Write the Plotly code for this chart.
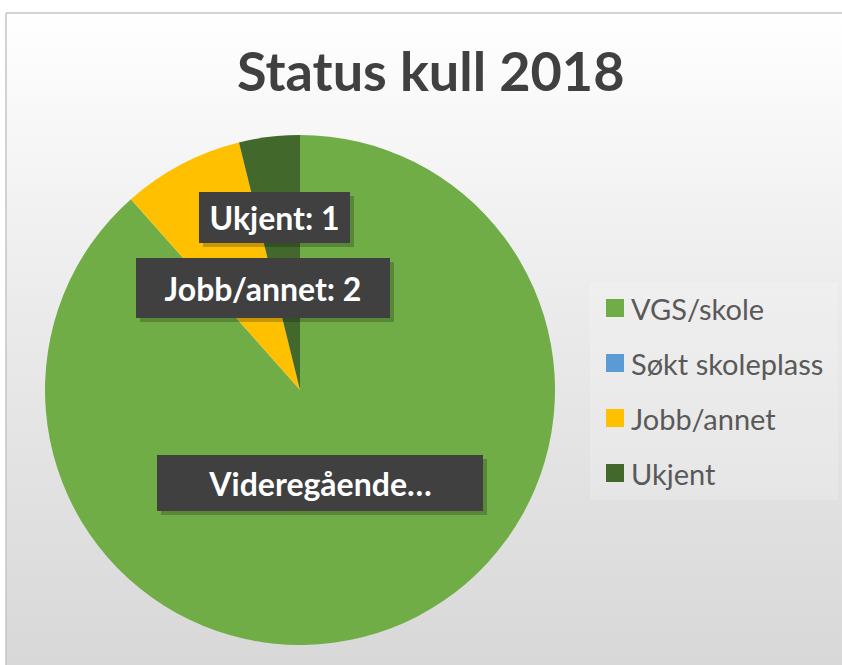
import plotly.graph_objects as go

W, H = 842, 665

title_text = "Status kull 2018"
labels = ["VGS/skole", "Søkt skoleplass", "Jobb/annet", "Ukjent"]
values = [23, 0, 2, 1]
colors = ["#70AD47", "#5B9BD5", "#FFC000", "#43682B"]
label_texts = ["Videregående…", None, "Jobb/annet: 2", "Ukjent: 1"]


def px(x):
    return x / W


def py(y):
    return 1 - y / H


fig = go.Figure()

# chart area background with vertical gradient
fig.add_trace(go.Scatter(
    x=[px(6), 1, 1, px(6), px(6)],
    y=[0, 0, py(13), py(13), 0],
    mode="lines", line=dict(width=0), fill="toself",
    fillgradient=dict(type="vertical",
                      colorscale=[[0, "#d8d8d8"], [0.55, "#ebebeb"], [1, "#ffffff"]]),
    hoverinfo="skip", showlegend=False,
))

fig.add_trace(go.Pie(
    labels=labels, values=values, sort=False, direction="clockwise", rotation=0,
    marker=dict(colors=colors, line=dict(width=0)),
    textinfo="none", showlegend=False, hoverinfo="label+value",
    domain=dict(x=[px(45), px(555)], y=[py(645), py(135)]),
))

layout_annotations = [
    dict(x=px(431), y=py(71), xref="paper", yref="paper", text="<b>" + title_text + "</b>",
         showarrow=False, font=dict(family="Lato", size=54, color="#404040"),
         xanchor="center", yanchor="middle"),
]

# data label boxes (centre x, centre y, width, height)
box_geom = {0: (320, 483, 326, 56), 2: (263, 288, 254, 60), 3: (274.5, 217.5, 151, 51)}
shapes = []
for i, t in enumerate(label_texts):
    if t is None:
        continue
    cx, cy, bw, bh = box_geom[i]
    shapes.append(dict(type="rect", xref="paper", yref="paper",
                       x0=px(cx - bw / 2 + 4), x1=px(cx + bw / 2 + 4),
                       y0=py(cy + bh / 2 + 4), y1=py(cy - bh / 2 + 4),
                       fillcolor="rgba(0,0,0,0.22)", line=dict(width=0), layer="above"))
    layout_annotations.append(dict(
        x=px(cx), y=py(cy), xref="paper", yref="paper", text="<b>" + t + "</b>",
        showarrow=False, font=dict(family="Lato", size=32, color="#ffffff"),
        bgcolor="#404040", width=bw, height=bh, borderpad=0, borderwidth=0,
        xanchor="center", yanchor="middle", align="center", valign="middle"))

# legend box
shapes.append(dict(type="rect", xref="paper", yref="paper",
                   x0=px(590), x1=px(838), y0=py(500), y1=py(283),
                   fillcolor="rgba(255,255,255,0.18)", line=dict(width=0), layer="above"))
for i, (lab, col) in enumerate(zip(labels, colors)):
    yc = 308 + 55 * i
    shapes.append(dict(type="rect", xref="paper", yref="paper",
                       x0=px(606), x1=px(624), y0=py(yc + 9), y1=py(yc - 9),
                       fillcolor=col, line=dict(width=0), layer="above"))
    layout_annotations.append(dict(
        x=px(629), y=py(yc), xref="paper", yref="paper", text=lab, showarrow=False,
        font=dict(family="Lato", size=29, color="#595959"), xanchor="left", yanchor="middle"))

# chart border (left / top)
shapes.append(dict(type="line", xref="paper", yref="paper", x0=px(6), x1=px(6), y0=0, y1=py(13),
                   line=dict(color="#c4c4c4", width=1.5), layer="above"))
shapes.append(dict(type="line", xref="paper", yref="paper", x0=px(6), x1=1, y0=py(13), y1=py(13),
                   line=dict(color="#c4c4c4", width=1.5), layer="above"))

fig.update_layout(
    width=W, height=H,
    margin=dict(l=0, r=0, t=0, b=0),
    paper_bgcolor="#ffffff", plot_bgcolor="rgba(0,0,0,0)",
    xaxis=dict(range=[0, 1], visible=False, domain=[0, 1], fixedrange=True),
    yaxis=dict(range=[0, 1], visible=False, domain=[0, 1], fixedrange=True),
    annotations=layout_annotations, shapes=shapes, showlegend=False,
)

fig.write_html("out.html", config={"displayModeBar": False},
               post_script="document.body.style.margin='0';")
